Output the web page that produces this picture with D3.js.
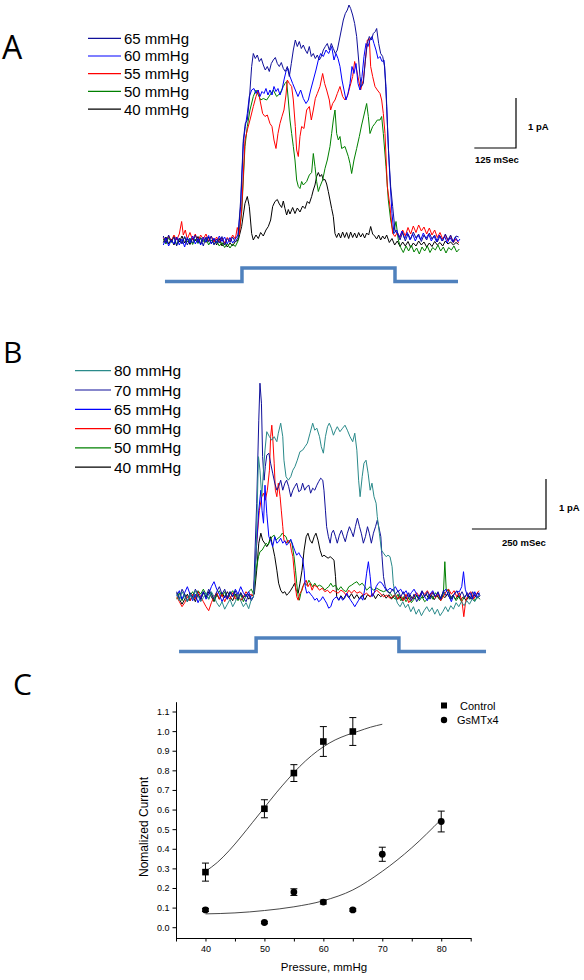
<!DOCTYPE html>
<html><head><meta charset="utf-8">
<script src="https://cdn.jsdelivr.net/npm/d3@7"></script>
<style>body{margin:0;background:#fff}svg{display:block}</style>
</head><body><svg id="fig" width="584" height="980"></svg>
<script>
// ===== Panel A: single-channel currents (time in ms, current in pA) =====
const legendA = ["65 mmHg", "60 mmHg", "55 mmHg", "50 mmHg", "40 mmHg"];
const colorsA = ["#10109a", "#0000ff", "#ff0000", "#008000", "#000000"];

const a40 = [[0,-0.05],[8,0.06],[16,-0.08],[24,0.02],[32,-0.1],[40,0.05],[48,-0.04],[56,0.08],[64,-0.06],[72,0.03],[80,-0.09],[88,0.04],[96,-0.02],[104,0.07],[112,-0.08],[120,0.01],[128,-0.05],[136,0.06],[144,-0.07],[152,0.02],[160,-0.1],[168,0.03],[176,-0.12],[184,-0.04],[192,-0.14],[200,-0.06],[208,-0.12],[216,-0.03],[225,0],[235,0.27],[245,0.73],[252,0.87],[258,0.67],[265,0.13],[270,0],[278,0.1],[285,0.03],[292,0.15],[300,0.08],[308,0.2],[315,0.27],[322,0.4],[328,0.67],[335,0.77],[342,0.81],[348,0.72],[355,0.65],[360,0.78],[365,0.63],[370,0.5],[375,0.61],[380,0.52],[388,0.65],[395,0.53],[402,0.64],[410,0.56],[418,0.68],[425,0.63],[432,0.77],[438,0.73],[445,0.87],[450,1.0],[455,1.1],[460,1.27],[465,1.35],[470,1.27],[475,1.31],[480,1.2],[485,1.21],[490,1.12],[495,0.97],[500,0.8],[505,0.63],[510,0.47],[515,0.13],[520,0.05],[526,0.14],[532,0.04],[538,0.16],[544,0.05],[550,0.15],[556,0.03],[562,0.16],[568,0.05],[574,0.14],[580,0.04],[586,0.15],[592,0.06],[598,0.13],[604,0.04],[610,0.14],[616,0.1],[622,0.27],[628,0.12],[634,0.08],[640,0.02],[646,0.1],[652,0],[658,0.08],[664,0.02],[670,0.1],[678,-0.05],[686,0.03],[694,-0.1],[702,-0.02],[710,-0.13],[718,-0.04],[726,-0.12],[734,-0.03],[742,-0.15],[750,-0.06],[758,-0.12],[766,-0.02],[774,-0.1],[782,-0.04],[790,-0.14],[798,-0.06],[806,-0.13],[814,-0.03],[822,-0.1],[830,-0.05],[838,-0.12],[846,-0.02],[854,-0.08],[862,-0.04],[870,-0.1],[878,-0.05],[886,-0.09]];

const a50 = [[0,0.02],[8,-0.08],[16,0.05],[24,-0.05],[32,0.08],[40,-0.1],[48,0.03],[56,-0.06],[64,0.06],[72,-0.04],[80,0.04],[88,-0.09],[96,0.02],[104,-0.07],[112,0.05],[120,-0.03],[128,0.04],[136,-0.1],[144,0],[152,-0.08],[160,-0.02],[168,-0.12],[176,-0.05],[184,-0.15],[192,-0.07],[200,-0.16],[208,-0.08],[216,-0.13],[224,-0.02],[235,0.53],[245,1.87],[252,2.27],[260,2.6],[270,2.87],[278,3.0],[285,2.9],[292,2.8],[300,2.83],[310,2.8],[320,2.9],[330,3.0],[340,2.87],[350,2.93],[360,3.07],[365,3.13],[370,3.17],[375,2.8],[380,2.4],[385,2.13],[390,1.87],[395,1.6],[400,1.2],[405,1.07],[410,1.03],[415,1.17],[420,1.1],[430,1.17],[438,1.3],[445,1.35],[450,1.73],[455,1.47],[460,1.17],[465,0.97],[470,1.07],[478,1.2],[485,1.43],[492,1.6],[500,1.87],[505,2.13],[510,2.4],[515,2.6],[520,2.13],[525,2.0],[530,2.07],[535,1.83],[545,1.87],[555,1.67],[560,1.53],[565,1.33],[572,1.6],[580,1.83],[588,2.07],[595,2.3],[602,2.5],[610,2.73],[615,2.47],[620,2.13],[628,2.27],[635,2.33],[642,2.4],[650,2.4],[655,2.47],[660,2.13],[668,1.47],[675,0.8],[682,0.4],[690,0.13],[698,0.37],[705,0],[712,-0.15],[720,-0.25],[728,-0.12],[736,-0.22],[744,-0.1],[752,-0.24],[760,-0.16],[768,-0.28],[776,-0.14],[784,-0.22],[792,-0.12],[800,-0.25],[808,-0.15],[816,-0.2],[824,-0.1],[832,-0.22],[840,-0.14],[848,-0.26],[856,-0.15],[864,-0.2],[872,-0.12],[880,-0.24],[888,-0.18]];

const a55 = [[0,0.05],[8,-0.04],[16,0.08],[24,-0.02],[32,0.1],[40,0],[48,0.12],[55,0.37],[60,0.1],[66,0.2],[72,0.02],[80,0.15],[88,0],[96,0.12],[104,-0.03],[112,0.1],[120,0.02],[128,0.12],[136,-0.02],[144,0.08],[152,-0.04],[160,0.06],[168,-0.05],[176,0.04],[184,-0.06],[192,0.05],[200,-0.02],[208,0.1],[216,0.02],[222,0.25],[228,0.1],[235,0.6],[245,2.0],[252,2.2],[260,2.4],[270,2.67],[278,2.87],[285,3.0],[290,2.8],[298,2.53],[305,2.47],[312,2.5],[320,2.33],[326,2.27],[332,2.0],[338,1.83],[344,2.13],[350,2.33],[356,2.47],[362,2.6],[368,2.9],[372,3.2],[378,3.13],[385,3.07],[390,2.8],[396,2.27],[400,1.8],[405,1.67],[410,2.07],[415,2.27],[422,2.23],[430,2.6],[438,2.67],[444,2.4],[450,2.6],[456,2.83],[462,2.93],[470,3.07],[478,3.33],[484,3.13],[490,3.0],[498,2.8],[502,2.6],[508,2.73],[515,2.8],[522,2.93],[530,3.07],[538,2.87],[545,2.8],[552,2.87],[560,3.07],[568,3.27],[574,3.57],[580,3.4],[586,3.2],[592,3.0],[600,3.2],[606,3.57],[612,4.0],[618,4.03],[622,3.47],[628,3.27],[635,3.07],[642,3.0],[650,2.93],[655,2.8],[660,2.53],[665,2.13],[672,1.07],[680,0.67],[688,0.13],[695,0.07],[702,0.15],[710,0.05],[718,0.2],[726,0.08],[734,0.25],[742,0.12],[750,0.28],[758,0.15],[766,0.3],[774,0.18],[782,0.26],[790,0.12],[798,0.24],[806,0.1],[814,0.2],[822,0.05],[830,0.15],[838,0.02],[846,0.1],[854,-0.02],[862,0.08],[870,-0.05],[878,0.02],[886,-0.06]];

const a60 = [[0,-0.1],[8,0.04],[16,-0.12],[24,0],[32,-0.08],[40,0.06],[48,-0.1],[56,0.02],[64,-0.14],[72,0.05],[80,-0.06],[88,0.08],[96,-0.08],[104,0.03],[112,-0.1],[120,0.06],[128,-0.04],[136,0.09],[144,-0.08],[152,0.04],[160,-0.06],[168,0.08],[176,-0.03],[184,0.06],[192,-0.08],[200,0.05],[208,-0.06],[216,0.02],[224,0.1],[232,0.67],[240,1.93],[246,2.27],[252,2.53],[258,2.87],[265,3.0],[272,3.03],[278,2.93],[284,3.0],[290,2.87],[296,2.97],[302,2.93],[308,3.03],[314,2.9],[320,3.0],[326,2.9],[332,3.07],[338,2.97],[344,3.03],[350,2.9],[356,3.0],[362,3.2],[368,3.37],[374,3.43],[380,3.27],[388,3.13],[396,3.0],[404,2.87],[412,3.0],[420,2.83],[428,2.73],[435,2.8],[442,3.0],[450,3.2],[458,3.4],[465,3.6],[472,3.73],[480,3.67],[488,3.8],[496,3.73],[505,3.87],[512,3.6],[518,3.73],[524,3.63],[530,3.47],[536,3.2],[542,3.0],[548,2.8],[554,2.93],[560,3.13],[566,3.47],[572,3.33],[578,3.53],[584,3.13],[590,3.0],[596,3.27],[602,3.67],[608,3.93],[614,3.87],[620,4.0],[626,4.07],[632,3.93],[638,3.8],[644,3.63],[650,3.67],[656,3.57],[662,3.6],[668,3.07],[674,2.0],[680,1.2],[686,0.53],[692,0.13],[700,0.2],[708,0.05],[716,0.18],[724,0.02],[732,0.15],[740,0],[748,0.12],[756,-0.02],[764,0.1],[772,0],[780,0.14],[788,0.03],[796,0.12],[804,-0.02],[812,0.08],[820,-0.04],[828,0.1],[836,-0.02],[844,0.07],[852,-0.06],[860,0.05],[868,-0.04],[876,0.06],[884,-0.03],[890,0.02]];

const a65 = [[0,0.08],[8,-0.06],[16,0.1],[24,-0.04],[32,0.06],[40,-0.12],[48,0.04],[56,-0.08],[64,0.07],[72,-0.1],[80,0.02],[88,-0.06],[96,0.1],[104,-0.05],[112,0.04],[120,-0.12],[128,0.06],[136,-0.04],[144,0.08],[152,-0.1],[160,0.02],[168,-0.06],[176,0.07],[184,-0.1],[192,0.03],[200,-0.05],[208,0.06],[216,-0.04],[224,0.05],[232,0.8],[240,2.0],[246,2.33],[252,2.4],[258,2.8],[265,3.47],[270,3.73],[276,3.63],[282,3.7],[288,3.57],[294,3.63],[300,3.5],[306,3.4],[312,3.47],[318,3.37],[324,3.53],[330,3.6],[336,3.65],[342,3.53],[348,3.47],[354,3.55],[360,3.43],[366,3.37],[372,3.47],[378,3.27],[384,3.53],[390,3.8],[396,4.0],[402,3.87],[408,3.97],[414,3.83],[420,3.9],[426,3.8],[432,3.73],[438,3.87],[444,3.67],[450,3.73],[456,3.63],[462,3.7],[468,3.6],[474,3.67],[480,3.8],[486,3.87],[492,3.93],[498,3.8],[504,3.93],[510,3.83],[516,3.73],[522,3.8],[528,4.0],[534,4.2],[540,4.4],[546,4.53],[552,4.6],[557,4.7],[562,4.63],[568,4.5],[574,4.33],[580,4.07],[586,3.6],[590,3.27],[594,3.07],[600,3.13],[606,3.6],[612,3.93],[618,4.07],[624,4.0],[630,4.13],[636,4.17],[640,4.23],[646,3.93],[652,3.73],[658,3.67],[664,3.47],[670,2.67],[676,1.73],[682,1.07],[688,0.67],[695,0.2],[702,0.13],[710,0],[718,0.15],[726,-0.02],[734,0.12],[742,0.02],[750,0.16],[758,0.04],[766,0.12],[774,-0.03],[782,0.1],[790,0],[798,0.14],[806,0.02],[814,0.1],[822,-0.04],[830,0.08],[838,-0.02],[846,0.12],[854,0],[862,0.1],[870,-0.05],[878,0.08],[886,0.06]];

const stimA = [[5,0],[236,0],[236,1],[695,1],[695,0],[884,0]];

// ===== Panel B =====
const legendB = ["80 mmHg", "70 mmHg", "65 mmHg", "60 mmHg", "50 mmHg", "40 mmHg"];
const colorsB = ["#2a8a8a", "#10109a", "#0000ff", "#ff0000", "#008000", "#000000"];

const b80 = [[0,0.05],[9,-0.08],[18,0.1],[27,0],[36,-0.1],[45,0.05],[54,-0.05],[63,0.12],[72,0.02],[81,-0.1],[90,-0.02],[99,0.08],[108,-0.05],[117,0.1],[126,0],[135,-0.12],[144,-0.2],[153,-0.1],[162,-0.25],[171,-0.15],[180,-0.05],[189,-0.2],[198,-0.1],[207,0.05],[216,-0.08],[225,-0.2],[234,-0.12],[243,-0.24],[252,-0.05],[259,0],[268,0.8],[272,1.87],[276,2.8],[281,2.53],[287,2.0],[293,2.53],[298,2.93],[304,3.3],[313,3.2],[321,3.13],[329,3.2],[338,3.1],[343,3.27],[351,3.47],[358,3.2],[362,2.73],[369,2.4],[377,2.33],[385,2.4],[392,2.53],[399,2.6],[407,2.73],[416,2.9],[425,2.93],[433,3.0],[441,3.07],[450,3.27],[459,3.47],[466,3.33],[473,3.37],[482,3.2],[488,3.0],[495,2.87],[502,3.2],[509,3.4],[515,3.47],[522,3.37],[529,3.23],[536,3.33],[542,3.4],[551,3.3],[560,3.37],[568,3.43],[576,3.33],[585,3.2],[594,3.1],[601,3.27],[608,2.93],[614,2.33],[619,2.0],[626,2.4],[632,2.67],[639,2.73],[646,2.47],[653,2.13],[659,2.27],[666,2.0],[673,1.87],[677,1.6],[684,1.27],[691,0.93],[698,0.87],[707,0.8],[713,0.83],[720,0.8],[727,0.6],[731,0.27],[738,0],[745,-0.13],[754,-0.2],[763,-0.1],[772,-0.22],[781,-0.15],[790,-0.3],[799,-0.2],[808,-0.35],[817,-0.25],[826,-0.38],[835,-0.28],[844,-0.2],[853,-0.3],[862,-0.22],[871,-0.35],[880,-0.25],[889,-0.38],[898,-0.3],[907,-0.2],[916,-0.3],[925,-0.18],[934,-0.25],[943,-0.12],[952,-0.2],[961,-0.1],[970,-0.18],[979,-0.08],[988,-0.15],[997,-0.05],[1006,-0.1],[1015,0],[1024,-0.05]];

const b70 = [[0,0.1],[9,-0.05],[18,0.15],[27,0.05],[36,-0.1],[45,0.08],[54,-0.02],[63,0.15],[72,0.05],[81,-0.08],[90,0.1],[99,0],[108,0.15],[117,0.05],[126,-0.05],[135,0.1],[144,0.2],[153,0.05],[162,0.15],[171,-0.02],[180,0.1],[189,0],[198,0.12],[207,-0.05],[216,0.08],[225,-0.02],[234,-0.1],[243,0.05],[252,-0.08],[259,0],[270,1.87],[277,3.53],[281,4.27],[286,3.87],[290,2.8],[295,2.33],[299,2.6],[304,2.83],[311,2.87],[317,2.67],[324,2.47],[331,2.27],[338,2.13],[344,2.2],[351,2.33],[358,2.13],[365,2.27],[371,2.33],[378,2.2],[385,2.0],[392,2.13],[398,2.2],[405,2.27],[412,2.1],[419,2.13],[425,2.27],[432,2.13],[439,2.2],[446,2.23],[452,2.07],[459,2.17],[466,2.13],[473,2.23],[479,2.3],[486,2.37],[493,2.33],[497,2.13],[502,1.73],[506,1.4],[512,1.2],[518,1.07],[523,1.27],[529,1.33],[536,1.2],[542,1.07],[549,1.23],[556,1.33],[563,1.2],[569,1.1],[576,1.27],[583,1.4],[590,1.3],[596,1.2],[603,1.4],[610,1.57],[617,1.4],[623,1.27],[630,1.07],[637,1.2],[644,1.4],[650,1.27],[657,1.07],[664,1.27],[671,1.4],[677,1.53],[682,1.4],[689,1.2],[693,0.8],[698,0.4],[704,0.2],[711,0.1],[720,0.07],[729,0.15],[738,0.05],[747,0.12],[756,0],[765,0.1],[774,-0.05],[783,0.08],[792,-0.08],[801,0.05],[810,-0.1],[819,0],[828,0.12],[837,0],[846,0.1],[855,-0.05],[864,0.08],[873,0],[882,0.1],[891,-0.05],[900,0.12],[909,0.02],[918,0.1],[927,-0.05],[936,0.05],[945,0.12],[954,0],[963,0.1],[972,-0.02],[981,0.08],[990,-0.05],[999,0.1],[1008,0],[1017,0.08],[1024,0.02]];

const b65 = [[0,0.02],[9,0.12],[18,-0.05],[27,0.08],[36,0.2],[45,0.05],[54,-0.08],[63,0.05],[72,-0.12],[81,0],[90,0.1],[99,-0.05],[108,0.05],[117,0.2],[126,0.3],[135,0.15],[144,0.05],[153,-0.1],[162,0.02],[171,-0.05],[180,0.1],[189,0],[198,0.15],[207,0.05],[216,0.2],[225,0.08],[234,0],[243,0.1],[252,-0.05],[259,0],[270,1.07],[277,1.73],[284,2.13],[288,1.73],[293,1.47],[298,2.23],[304,1.67],[311,1.2],[317,1.13],[324,1.0],[331,1.2],[338,1.07],[344,1.1],[351,1.17],[358,1.07],[365,1.12],[371,1.03],[378,1.08],[385,1.15],[392,1.03],[398,0.93],[405,0.83],[412,0.88],[419,0.8],[425,0.77],[430,0.53],[434,0.2],[439,0.07],[446,0.1],[452,0.05],[459,0],[466,-0.07],[473,-0.03],[479,-0.1],[486,-0.07],[493,0],[500,-0.07],[506,-0.13],[513,-0.23],[520,-0.2],[527,-0.07],[533,-0.03],[540,0],[547,-0.07],[554,0],[560,-0.07],[567,-0.03],[574,0.07],[580,0],[587,-0.07],[594,-0.13],[601,-0.2],[608,-0.13],[614,-0.07],[621,0],[628,-0.07],[634,0.13],[641,0.47],[647,0.7],[653,0.4],[659,0],[666,0.07],[673,0.2],[680,0.27],[686,0.3],[693,0.27],[700,0.2],[707,0.13],[713,0.13],[720,0.17],[729,0.13],[738,0.2],[747,0.1],[756,0.15],[765,0.05],[774,0.12],[783,0],[792,0.08],[801,0.15],[810,0.05],[819,-0.05],[828,0.1],[837,0],[846,-0.08],[855,0.05],[864,0.12],[873,0],[882,0.08],[891,-0.05],[900,0.1],[909,0.15],[918,0.02],[927,-0.1],[936,0.05],[945,0.1],[954,0.1],[962,0.2],[968,0.5],[974,0.15],[982,0],[990,0.08],[998,-0.05],[1006,0.1],[1014,-0.02],[1022,0.08]];

const b60 = [[0,0],[9,-0.1],[18,-0.2],[27,-0.12],[36,0],[45,-0.08],[54,0.05],[63,-0.05],[72,0.1],[81,0],[90,-0.1],[99,-0.2],[108,-0.28],[117,-0.12],[126,0],[135,0.08],[144,-0.05],[153,0.05],[162,-0.1],[171,0.02],[180,-0.05],[189,0.08],[198,-0.05],[207,0.05],[216,-0.08],[225,0],[234,0.1],[243,0.02],[252,0.05],[259,0],[270,1.07],[279,1.73],[287,2.0],[293,2.07],[299,1.93],[306,2.13],[313,2.53],[317,3.2],[321,3.43],[324,3.2],[329,2.67],[333,2.13],[338,2.0],[343,2.27],[349,2.0],[353,1.73],[358,1.4],[362,1.13],[369,1.07],[376,1.13],[383,1.07],[387,0.93],[392,0.8],[396,0.53],[401,0.2],[405,0],[410,-0.07],[416,0.07],[423,0.13],[430,0.27],[437,0.33],[443,0.2],[450,0.27],[457,0.13],[464,0.23],[473,0.2],[482,0.13],[491,0.17],[500,0.1],[509,0.13],[518,0.07],[527,0.13],[536,0.1],[545,0.07],[554,0.13],[563,0.1],[572,0.03],[581,0.13],[590,0.07],[599,0.13],[608,0.07],[619,0.1],[630,0.03],[641,0.07],[653,0],[664,0.07],[675,0.13],[686,0.07],[698,0],[709,0.03],[720,-0.03],[729,0],[738,0.05],[747,-0.05],[756,0.02],[765,-0.08],[774,0.05],[783,-0.12],[792,-0.05],[801,0],[810,0.08],[819,0],[828,0.1],[837,0.05],[846,0.12],[855,0.02],[864,0.1],[873,-0.02],[882,0.05],[891,-0.08],[900,0],[909,0.1],[918,0.15],[927,0.05],[936,0.12],[945,0],[954,0.08],[963,-0.1],[969,-0.4],[975,-0.1],[984,0.05],[993,0.1],[1002,-0.05],[1011,0.05],[1020,0.12]];

const b50 = [[0,-0.05],[9,0.08],[18,-0.08],[27,0.05],[36,-0.1],[45,0.02],[54,0.1],[63,-0.02],[72,0.12],[81,0.05],[90,0.15],[99,0.05],[108,-0.05],[117,0.08],[126,-0.08],[135,0.02],[144,0.12],[153,0],[162,0.1],[171,-0.05],[180,0.05],[189,0.12],[198,0.02],[207,-0.08],[216,0.05],[225,-0.1],[234,0.02],[243,0.1],[252,0.15],[259,0.05],[268,0.53],[276,0.8],[281,0.9],[288,0.93],[295,1.0],[302,1.07],[308,1.03],[315,1.13],[322,1.2],[329,1.23],[335,1.13],[342,1.17],[349,1.2],[356,1.27],[362,1.23],[369,1.2],[376,1.07],[383,1.13],[389,1.07],[396,0.8],[401,0.53],[405,0.27],[410,0],[414,-0.07],[419,0.07],[425,0.2],[432,0.27],[439,0.23],[446,0.33],[452,0.27],[459,0.2],[466,0.27],[473,0.2],[482,0.23],[491,0.2],[500,0.13],[506,0.17],[513,0.2],[520,0.27],[527,0.2],[536,0.23],[545,0.13],[554,0.2],[563,0.13],[572,0.1],[581,0.2],[590,0.23],[599,0.27],[608,0.3],[617,0.23],[626,0.27],[635,0.2],[641,0.13],[653,0.2],[664,0.13],[675,0.17],[686,0.13],[698,0.1],[709,0.13],[720,0.07],[729,0],[738,-0.05],[747,0.05],[756,-0.08],[765,0],[774,-0.1],[783,-0.02],[792,-0.12],[801,-0.05],[810,0.02],[819,-0.08],[828,0],[837,-0.1],[846,-0.05],[855,0.05],[864,-0.05],[873,0.08],[882,0],[891,-0.08],[900,0.05],[905,0.7],[910,0.1],[916,0.15],[925,-0.05],[934,0.02],[943,-0.08],[952,0],[961,-0.1],[970,-0.02],[979,0.05],[988,-0.05],[997,0.02],[1006,-0.08],[1015,0],[1024,-0.05]];

const b40 = [[0,0.08],[9,-0.05],[18,-0.15],[27,-0.05],[36,0.05],[45,-0.08],[54,0.02],[63,-0.1],[72,0.05],[81,-0.05],[90,0.08],[99,-0.02],[108,0.1],[117,0],[126,-0.1],[135,0.05],[144,-0.05],[153,0.08],[162,-0.02],[171,0.1],[180,0],[189,-0.08],[198,0.05],[207,-0.05],[216,0.08],[225,-0.02],[234,0.05],[243,-0.05],[252,0.02],[262,0.05],[270,0.53],[277,1.07],[284,1.27],[290,1.13],[297,1.07],[304,1.0],[311,1.07],[317,1.2],[324,1.0],[331,0.8],[338,0.53],[344,0.27],[351,0.13],[358,0.07],[365,0.1],[371,0.03],[378,0.07],[385,0.13],[392,0.2],[398,0.27],[403,0.13],[410,0.07],[416,0.27],[423,0.53],[430,0.93],[437,1.2],[443,1.27],[450,1.13],[457,1.07],[464,1.2],[470,1.27],[477,1.13],[484,0.93],[491,0.8],[497,0.83],[504,0.8],[511,0.77],[518,0.8],[524,0.77],[531,0.73],[536,0.4],[540,0],[547,-0.07],[554,0.02],[563,-0.05],[572,0.05],[581,-0.02],[590,0.06],[599,-0.04],[608,0.04],[617,-0.05],[626,0.03],[635,-0.06],[644,0.04],[653,0],[662,0.06],[671,-0.04],[680,0.05],[689,0],[698,0.05],[707,-0.03],[716,0.04],[725,-0.05],[734,0.03],[743,-0.06],[752,0.02],[761,-0.08],[770,0],[779,-0.06],[788,0.03],[797,-0.05],[806,0.05],[815,-0.03],[824,0.06],[833,-0.02],[842,0.05],[851,-0.04],[860,0.03],[869,-0.06],[878,0.02],[887,-0.05],[896,0.04],[905,-0.02],[914,0.05],[923,-0.04],[932,0.03],[941,-0.05],[950,0.02],[959,-0.06],[968,0],[977,-0.08],[986,0.02],[995,-0.05],[1004,0.04],[1013,-0.03],[1024,0.02]];

const stimB = [[8,0],[268,0],[268,1],[750,1],[750,0],[1044,0]];

// ===== Panel C: dose-response =====
const pressures = [40, 50, 55, 60, 65, 70, 80];
const ctrlP = [40, 50, 55, 60, 65];
const ctrlV = [0.281, 0.604, 0.786, 0.947, 0.998];
const ctrlE = [0.046, 0.046, 0.043, 0.076, 0.071];
const gsP = [40, 50, 55, 60, 65, 70, 80];
const gsV = [0.088, 0.024, 0.179, 0.128, 0.088, 0.372, 0.539];
const gsE = [0.008, 0.006, 0.017, 0.010, 0.006, 0.036, 0.053];
const ctrlFitP = [40, 42, 44, 46, 48, 50, 52, 54, 56, 58, 60, 62, 64, 66, 68, 70];
const ctrlFitV = [0.285, 0.33, 0.39, 0.46, 0.535, 0.61, 0.685, 0.755, 0.82, 0.875, 0.92, 0.955, 0.98, 1.0, 1.02, 1.035];
const gsFitP = [40, 45, 50, 55, 60, 65, 70, 75, 80];
const gsFitV = [0.068, 0.073, 0.085, 0.104, 0.135, 0.19, 0.285, 0.405, 0.55];
const yTicksC = [0, 0.1, 0.2, 0.3, 0.4, 0.5, 0.6, 0.7, 0.8, 0.9, 1.0, 1.1];
const xTicksC = [35, 40, 45, 50, 55, 60, 65, 70, 75, 80, 85];
const legendC = ["Control", "GsMTx4"];

// ===== drawing =====
const svg = d3.select("#fig");
const FONT = "'Liberation Sans', Arial, sans-serif";

function panelLetter(txt, x, y, size) {
  svg.append("text").attr("x", x).attr("y", y).text(txt)
    .attr("font-family", "'Open Sans', 'DejaVu Sans', sans-serif")
    .attr("font-size", size).attr("fill", "#000");
}

function drawTraces(traces, colors, xs, ys) {
  const line = d3.line().x(d => xs(d[0])).y(d => ys(d[1]));
  traces.forEach((tr, i) => {
    svg.append("path").attr("d", line(tr)).attr("fill", "none")
      .attr("stroke", colors[i]).attr("stroke-width", 1)
      .attr("stroke-linejoin", "round");
  });
}

function drawLegend(labels, colors, x0, y0, dy, len, fs) {
  labels.forEach((lab, i) => {
    const y = y0 + i * dy;
    svg.append("line").attr("x1", x0).attr("x2", x0 + len).attr("y1", y).attr("y2", y)
      .attr("stroke", colors[i]).attr("stroke-width", 1.2);
    svg.append("text").attr("x", x0 + len + 3).attr("y", y + fs * 0.36).text(lab)
      .attr("font-family", FONT).attr("font-size", fs).attr("fill", "#000");
  });
}

function drawStim(stim, xs, ys) {
  const line = d3.line().x(d => xs(d[0])).y(d => ys(d[1]));
  svg.append("path").attr("d", line(stim)).attr("fill", "none")
    .attr("stroke", "#4f81bd").attr("stroke-width", 3.5).attr("stroke-linejoin", "miter");
}

function scaleBar(cx, cy, xs, ys, tms, ylabel, xlabel, lx, ly, tx, ty) {
  const w = xs(tms) - xs(0), h = ys(0) - ys(1);
  svg.append("path").attr("d", `M${cx - w},${cy}H${cx}V${cy - h}`)
    .attr("fill", "none").attr("stroke", "#000").attr("stroke-width", 1.2);
  svg.append("text").attr("x", lx).attr("y", ly).text(ylabel)
    .attr("font-family", FONT).attr("font-weight", "bold").attr("font-size", 9.5);
  svg.append("text").attr("x", tx).attr("y", ty).text(xlabel)
    .attr("font-family", FONT).attr("font-weight", "bold").attr("font-size", 9.5);
}

// Panel A
panelLetter("A", 2, 59, 32);
const xA = d3.scaleLinear().domain([0, 890]).range([163.3, 460]);
const yA = d3.scaleLinear().domain([0, 1]).range([240, 190]);
const yStimA = d3.scaleLinear().domain([0, 1]).range([281.5, 268]);
drawTraces([a40, a50, a55, a60, a65], ["#000000", "#008000", "#ff0000", "#0000ff", "#10109a"], xA, yA);
drawLegend(legendA, colorsA, 88, 38.3, 17.7, 33, 15);
drawStim(stimA, xA, yStimA);
scaleBar(516, 148, xA, yA, 125, "1 pA", "125 mSec", 528, 129.5, 475, 163);

// Panel B
panelLetter("B", 3, 363, 30);
const xB = d3.scaleLinear().domain([0, 1024]).range([176.7, 480.1]);
const yB = d3.scaleLinear().domain([0, 1]).range([596.7, 546.7]);
const yStimB = d3.scaleLinear().domain([0, 1]).range([651.5, 638]);
drawTraces([b40, b50, b60, b65, b70, b80], ["#000000", "#008000", "#ff0000", "#0000ff", "#10109a", "#2a8a8a"], xB, yB);
drawLegend(legendB, colorsB, 75, 370.7, 19.3, 36, 15.5);
drawStim(stimB, xB, yStimB);
scaleBar(546, 529, xB, yB, 250, "1 pA", "250 mSec", 559, 510.5, 502, 545.5);

// Panel C
panelLetter("C", 13, 695, 30);
const xC = d3.scaleLinear().domain([35, 85]).range([176, 470.7]);
const yC = d3.scaleLinear().domain([-0.055, 1.15]).range([938, 701.7]);
const gx = svg.append("g").attr("transform", "translate(0,938)")
  .call(d3.axisBottom(xC).tickValues(xTicksC).tickSizeInner(3.5).tickSizeOuter(0).tickPadding(4)
    .tickFormat(d => (d % 10 === 0 && d >= 40 && d <= 80) ? d : ""));
const gy = svg.append("g").attr("transform", "translate(176,0)")
  .call(d3.axisLeft(yC).tickValues(yTicksC).tickSizeInner(3.5).tickSizeOuter(0).tickPadding(3)
    .tickFormat(d3.format(".1f")));
[gx, gy].forEach(g => {
  g.selectAll("text").attr("font-family", FONT).attr("font-size", 9).attr("fill", "#000");
  g.selectAll("line,path").attr("stroke", "#000").attr("stroke-width", 1);
});
svg.append("text").attr("x", 324).attr("y", 971).attr("text-anchor", "middle")
  .attr("font-family", FONT).attr("font-size", 11.5).text("Pressure, mmHg");
svg.append("text").attr("transform", "translate(148,827) rotate(-90)").attr("text-anchor", "middle")
  .attr("font-family", FONT).attr("font-size", 12).text("Nomalized Current");

const fitLine = d3.line().x(d => xC(d[0])).y(d => yC(d[1])).curve(d3.curveMonotoneX);
svg.append("path").attr("d", fitLine(ctrlFitP.map((p, i) => [p, ctrlFitV[i]])))
  .attr("fill", "none").attr("stroke", "#333").attr("stroke-width", 0.9);
svg.append("path").attr("d", fitLine(gsFitP.map((p, i) => [p, gsFitV[i]])))
  .attr("fill", "none").attr("stroke", "#333").attr("stroke-width", 0.9);

function errBars(P, V, E) {
  P.forEach((p, i) => {
    const x = xC(p), y1 = yC(V[i] + E[i]), y2 = yC(V[i] - E[i]);
    svg.append("path").attr("d", `M${x},${y1}V${y2}M${x - 3.5},${y1}H${x + 3.5}M${x - 3.5},${y2}H${x + 3.5}`)
      .attr("stroke", "#000").attr("stroke-width", 1).attr("fill", "none");
  });
}
errBars(ctrlP, ctrlV, ctrlE);
errBars(gsP, gsV, gsE);
ctrlP.forEach((p, i) => {
  svg.append("rect").attr("x", xC(p) - 3.3).attr("y", yC(ctrlV[i]) - 3.3)
    .attr("width", 6.6).attr("height", 6.6).attr("fill", "#000");
});
gsP.forEach((p, i) => {
  svg.append("circle").attr("cx", xC(p)).attr("cy", yC(gsV[i])).attr("r", 3.4).attr("fill", "#000");
});
// legend C
svg.append("rect").attr("x", 441).attr("y", 702.5).attr("width", 6).attr("height", 6).attr("fill", "#000");
svg.append("circle").attr("cx", 444).attr("cy", 720).attr("r", 3.2).attr("fill", "#000");
svg.append("text").attr("x", 460).attr("y", 709.5).attr("font-family", FONT).attr("font-size", 11).text(legendC[0]);
svg.append("text").attr("x", 457).attr("y", 724).attr("font-family", FONT).attr("font-size", 11).text(legendC[1]);
</script></body></html>
